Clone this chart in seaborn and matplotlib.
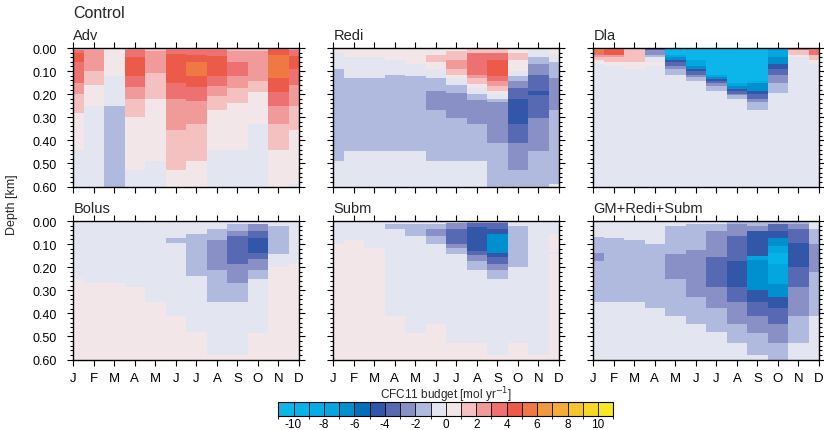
import numpy as np
import matplotlib
matplotlib.use("Agg")
import matplotlib as mpl
import matplotlib.pyplot as plt
from matplotlib.colors import ListedColormap, BoundaryNorm
import seaborn as sns

# month labels and colour classes
months = ["J", "F", "M", "A", "M", "J", "J", "A", "S", "O", "N", "D"]
levels = np.arange(-11, 12, 1)          # class edges, -11/11 stand for the open ends
cbar_ticks = np.arange(-10, 11, 2)
palette = ["#0cb6ea", "#06b3e8", "#04aee5", "#03a7e0", "#0090d0", "#0071b9",
           "#3357a8", "#5869b4", "#8890c6", "#b0b9de", "#e3e5f0", "#f3e6e8",
           "#f4c0c0", "#f09a9a", "#ed7171", "#ec5a4a", "#ef7943", "#f1993e",
           "#f4ac37", "#f6c42e", "#f7d826", "#f8e824"]

# each month: list of (bottom depth [km], budget value) from the surface down
adv = [
    [(0.01, 1.5), (0.02, 3.5), (0.06, 4.5), (0.15, 3.5), (0.20, 2.5), (0.28, 1.5), (0.44, 0.5), (0.6, -0.5)],
    [(0.01, 1.5), (0.10, 2.5), (0.16, 1.5), (0.25, 0.5), (0.6, -0.5)],
    [(0.12, 0.5), (0.25, -0.5), (0.6, -1.5)],
    [(0.01, 2.5), (0.04, 3.5), (0.12, 4.5), (0.17, 3.5), (0.22, 2.5), (0.30, 1.5), (0.53, 0.5), (0.6, -0.5)],
    [(0.015, 1.5), (0.11, 2.5), (0.22, 1.5), (0.49, 0.5), (0.6, -0.5)],
    [(0.01, 2.5), (0.025, 3.5), (0.15, 4.5), (0.22, 3.5), (0.355, 2.5), (0.53, 1.5), (0.6, 0.5)],
    [(0.01, 2.5), (0.03, 3.5), (0.06, 4.5), (0.12, 5.5), (0.17, 4.5), (0.23, 3.5), (0.33, 2.5), (0.49, 1.5), (0.6, 0.5)],
    [(0.01, 2.5), (0.035, 3.5), (0.12, 4.5), (0.165, 3.5), (0.21, 2.5), (0.27, 1.5), (0.44, 0.5), (0.6, -0.5)],
    [(0.012, 1.5), (0.063, 2.5), (0.12, 3.5), (0.175, 2.5), (0.24, 1.5), (0.44, 0.5), (0.6, -0.5)],
    [(0.012, 1.5), (0.145, 2.5), (0.19, 1.5), (0.33, 0.5), (0.6, -0.5)],
    [(0.01, 3.5), (0.03, 4.5), (0.13, 5.5), (0.19, 4.5), (0.25, 3.5), (0.33, 2.5), (0.44, 1.5), (0.6, 0.5)],
    [(0.01, 1.5), (0.035, 3.5), (0.09, 4.5), (0.16, 3.5), (0.25, 2.5), (0.355, 1.5), (0.59, 0.5), (0.6, -0.5)],
]

redi = [
    [(0.02, 0.5), (0.09, -0.5), (0.49, -1.5), (0.6, -0.5)],
    [(0.04, 0.5), (0.13, -0.5), (0.445, -1.5), (0.6, -0.5)],
    [(0.04, 0.5), (0.13, -0.5), (0.445, -1.5), (0.6, -0.5)],
    [(0.05, 0.5), (0.115, -0.5), (0.445, -1.5), (0.6, -0.5)],
    [(0.07, 0.5), (0.12, -0.5), (0.445, -1.5), (0.6, -0.5)],
    [(0.03, 0.5), (0.063, 1.5), (0.09, 0.5), (0.13, -0.5), (0.185, -1.5), (0.27, -2.5), (0.49, -1.5), (0.6, -0.5)],
    [(0.012, 0.5), (0.05, 1.5), (0.09, 2.5), (0.115, 1.5), (0.13, 0.5), (0.16, -0.5), (0.195, -1.5), (0.305, -2.5), (0.49, -1.5), (0.6, -0.5)],
    [(0.02, 1.5), (0.115, 3.5), (0.13, 2.5), (0.155, 1.5), (0.175, 0.5), (0.2, -0.5), (0.225, -1.5), (0.33, -2.5), (0.49, -1.5), (0.6, -0.5)],
    [(0.02, 1.5), (0.05, 3.5), (0.12, 4.5), (0.143, 3.5), (0.162, 2.5), (0.185, 1.5), (0.2, 0.5), (0.223, -0.5), (0.235, -1.5), (0.41, -2.5), (0.6, -1.5)],
    [(0.02, 0.5), (0.05, 1.5), (0.1, 0.5), (0.12, -0.5), (0.143, -1.5), (0.172, -2.5), (0.223, -3.5), (0.33, -4.5), (0.41, -3.5), (0.53, -2.5), (0.6, -1.5)],
    [(0.04, -0.5), (0.07, -1.5), (0.115, -2.5), (0.185, -3.5), (0.203, -4.5), (0.305, -3.5), (0.445, -2.5), (0.6, -1.5)],
    [(0.03, 0.5), (0.063, -0.5), (0.13, -1.5), (0.27, -2.5), (0.59, -1.5), (0.6, -0.5)],
]

dla = [
    [(0.007, 7.5), (0.018, 5.5), (0.03, 3.5), (0.04, 2.5), (0.05, 1.5), (0.07, 0.5), (0.6, -0.5)],
    [(0.007, 3.5), (0.03, 4.5), (0.04, 2.5), (0.06, 1.5), (0.08, 0.5), (0.6, -0.5)],
    [(0.06, 1.5), (0.09, 0.5), (0.6, -0.5)],
    [(0.007, -3.5), (0.03, -2.5), (0.04, -1.5), (0.06, -0.5), (0.08, 0.5), (0.6, -0.5)],
    [(0.03, -10.5), (0.04, -7.5), (0.05, -6.5), (0.06, -4.5), (0.08, -3.5), (0.09, -2.5), (0.115, -1.5), (0.6, -0.5)],
    [(0.05, -10.5), (0.08, -7.5), (0.09, -6.5), (0.1, -4.5), (0.115, -3.5), (0.125, -2.5), (0.143, -1.5), (0.6, -0.5)],
    [(0.115, -10.5), (0.125, -7.5), (0.133, -6.5), (0.143, -4.5), (0.153, -3.5), (0.162, -2.5), (0.185, -1.5), (0.6, -0.5)],
    [(0.153, -10.5), (0.165, -7.5), (0.177, -6.5), (0.187, -4.5), (0.2, -3.5), (0.205, -2.5), (0.223, -1.5), (0.6, -0.5)],
    [(0.143, -10.5), (0.153, -8.5), (0.185, -6.5), (0.2, -4.5), (0.223, -3.5), (0.235, -2.5), (0.267, -1.5), (0.6, -0.5)],
    [(0.04, -7.5), (0.07, -6.5), (0.09, -4.5), (0.115, -3.5), (0.153, -2.5), (0.195, -1.5), (0.6, -0.5)],
    [(0.007, 3.5), (0.03, 1.5), (0.04, 0.5), (0.6, -0.5)],
    [(0.007, 6.5), (0.03, 3.5), (0.05, 1.5), (0.07, 0.5), (0.6, -0.5)],
]

bolus = [
    [(0.252, -0.5), (0.6, 0.5)],
    [(0.27, -0.5), (0.6, 0.5)],
    [(0.27, -0.5), (0.6, 0.5)],
    [(0.288, -0.5), (0.6, 0.5)],
    [(0.353, -0.5), (0.6, 0.5)],
    [(0.075, -0.5), (0.094, -1.5), (0.41, -0.5), (0.6, 0.5)],
    [(0.055, -0.5), (0.237, -1.5), (0.482, -0.5), (0.6, 0.5)],
    [(0.036, -0.5), (0.083, -1.5), (0.213, -2.5), (0.35, -1.5), (0.583, -0.5), (0.6, 0.5)],
    [(0.014, -0.5), (0.046, -1.5), (0.065, -2.5), (0.187, -3.5), (0.27, -2.5), (0.35, -1.5), (0.583, -0.5), (0.6, 0.5)],
    [(0.014, -0.5), (0.043, -2.5), (0.072, -3.5), (0.137, -4.5), (0.165, -3.5), (0.213, -2.5), (0.252, -1.5), (0.486, -0.5), (0.6, 0.5)],
    [(0.022, -0.5), (0.144, -1.5), (0.2, -0.5), (0.6, 0.5)],
    [(0.187, -0.5), (0.6, 0.5)],
]

subm = [
    [(0.098, -0.5), (0.6, 0.5)],
    [(0.083, -0.5), (0.6, 0.5)],
    [(0.115, -0.5), (0.6, 0.5)],
    [(0.014, -0.5), (0.036, -1.5), (0.41, -0.5), (0.6, 0.5)],
    [(0.014, -0.5), (0.066, -1.5), (0.486, -0.5), (0.6, 0.5)],
    [(0.014, -0.5), (0.036, -1.5), (0.066, -2.5), (0.098, -1.5), (0.446, -0.5), (0.6, 0.5)],
    [(0.007, -0.5), (0.036, -2.5), (0.098, -3.5), (0.115, -2.5), (0.144, -1.5), (0.53, -0.5), (0.6, 0.5)],
    [(0.007, -1.5), (0.026, -3.5), (0.13, -4.5), (0.147, -3.5), (0.173, -2.5), (0.213, -1.5), (0.53, -0.5), (0.6, 0.5)],
    [(0.007, -1.5), (0.036, -3.5), (0.055, -4.5), (0.137, -6.5), (0.156, -4.5), (0.187, -3.5), (0.213, -2.5), (0.252, -1.5), (0.583, -0.5), (0.6, 0.5)],
    [(0.023, -0.5), (0.2, -1.5), (0.53, -0.5), (0.6, 0.5)],
    [(0.583, -0.5), (0.6, 0.5)],
    [(0.055, -0.5), (0.134, 0.5), (0.143, -0.5), (0.6, 0.5)],
]

gm_redi_subm = [
    [(0.068, -0.5), (0.137, -1.5), (0.173, -2.5), (0.35, -1.5), (0.6, -0.5)],
    [(0.075, -0.5), (0.35, -1.5), (0.6, -0.5)],
    [(0.083, -0.5), (0.35, -1.5), (0.6, -0.5)],
    [(0.098, -0.5), (0.374, -1.5), (0.6, -0.5)],
    [(0.022, -0.5), (0.144, -1.5), (0.252, -2.5), (0.41, -1.5), (0.6, -0.5)],
    [(0.014, -0.5), (0.127, -1.5), (0.331, -2.5), (0.446, -1.5), (0.6, -0.5)],
    [(0.014, -0.5), (0.043, -1.5), (0.155, -2.5), (0.288, -3.5), (0.374, -2.5), (0.482, -1.5), (0.6, -0.5)],
    [(0.014, -1.5), (0.066, -2.5), (0.173, -3.5), (0.288, -4.5), (0.35, -3.5), (0.446, -2.5), (0.53, -1.5), (0.6, -0.5)],
    [(0.022, -1.5), (0.043, -2.5), (0.151, -4.5), (0.17, -7.5), (0.30, -6.5), (0.35, -4.5), (0.41, -3.5), (0.486, -2.5), (0.583, -1.5), (0.6, -0.5)],
    [(0.014, -1.5), (0.043, -3.5), (0.072, -4.5), (0.108, -6.5), (0.137, -7.5), (0.187, -9.5), (0.273, -7.5), (0.331, -6.5), (0.374, -4.5), (0.446, -3.5), (0.53, -2.5), (0.6, -1.5)],
    [(0.014, -1.5), (0.036, -2.5), (0.094, -3.5), (0.2, -4.5), (0.288, -3.5), (0.41, -2.5), (0.53, -1.5), (0.6, -0.5)],
    [(0.036, -0.5), (0.098, -1.5), (0.223, -2.5), (0.41, -1.5), (0.6, -0.5)],
]

titles = ["Adv", "Redi", "Dla", "Bolus", "Subm", "GM+Redi+Subm"]
panels = [adv, redi, dla, bolus, subm, gm_redi_subm]

dz = 0.0025
zmax = 0.6
nz = int(round(zmax / dz))


def to_grid(cols):
    # half-month columns so that Jan and Dec are half cells at the edges
    grid = np.zeros((nz, 22))
    zc = (np.arange(nz) + 0.5) * dz
    for m, segs in enumerate(cols):
        bottoms = np.array([s[0] for s in segs])
        vals = np.array([s[1] for s in segs])
        idx = np.clip(np.searchsorted(bottoms, zc), 0, len(vals) - 1)
        col = vals[idx]
        if m == 0:
            grid[:, 0] = col
        elif m == 11:
            grid[:, 21] = col
        else:
            grid[:, 2 * m - 1] = col
            grid[:, 2 * m] = col
    return grid


sns.set_style("ticks", {"axes.edgecolor": "black", "xtick.color": "black",
                        "ytick.color": "black"})
plt.rcParams["font.family"] = ["Liberation Sans", "DejaVu Sans"]
plt.rcParams["axes.unicode_minus"] = False

cmap = ListedColormap(palette)
norm = BoundaryNorm(levels, ncolors=cmap.N)

fig = plt.figure(figsize=(8.24, 4.31), dpi=100)
W, H = 824, 431
lefts = [73.3, 333.3, 593.3]
tops = [49, 222]
pw, ph = 225.7, 138.5

for i, (title, data) in enumerate(zip(titles, panels)):
    r, c = divmod(i, 3)
    ax = fig.add_axes([lefts[c] / W, 1 - (tops[r] + ph) / H, pw / W, ph / H])
    sns.heatmap(to_grid(data), ax=ax, cmap=cmap, norm=norm, cbar=False,
                xticklabels=False, yticklabels=False)
    for sp in ax.spines.values():
        sp.set_visible(True)
        sp.set_linewidth(1.0)
    ax.set_xlim(0, 22)
    ax.set_ylim(nz, 0)
    ax.set_xticks(np.arange(0, 23, 2))
    ax.set_xticklabels(months if r == 1 else [""] * 12, fontsize=9.5)
    ax.set_yticks(np.arange(0, 0.61, 0.1) / dz)
    ax.set_yticks(np.arange(0, 0.601, 0.02) / dz, minor=True)
    if c == 0:
        ax.set_yticklabels(["%.2f" % v for v in np.arange(0, 0.61, 0.1)], fontsize=9)
    else:
        ax.set_yticklabels([""] * 7)
    ax.tick_params(which="both", direction="out", top=True, right=True,
                   width=0.8, labelrotation=0)
    ax.tick_params(which="major", length=4, pad=5)
    ax.tick_params(which="minor", length=2)
    ax.tick_params(axis="y", which="major", pad=8)
    ax.annotate(title, xy=(0, 1), xycoords="axes fraction", xytext=(0, 6.2),
                textcoords="offset points", va="baseline", ha="left", fontsize=10.5)

fig.text(73 / W, 1 - 18 / H, "Control", fontsize=11.5, va="baseline", ha="left")
fig.text(12 / W, 1 - 205 / H, "Depth [km]", rotation=90, va="center", ha="center",
         fontsize=9)

cax = fig.add_axes([278.3 / W, 1 - 416.5 / H, 335 / W, 14 / H])
sm = mpl.cm.ScalarMappable(norm=norm, cmap=cmap)
cb = fig.colorbar(sm, cax=cax, orientation="horizontal", ticks=cbar_ticks,
                  drawedges=True)
cb.outline.set_linewidth(0.8)
cb.outline.set_edgecolor("black")
cb.dividers.set_color("black")
cb.dividers.set_linewidth(0.6)
cax.tick_params(length=0, labelsize=8.5, pad=1.5)
cax.set_xticklabels([str(t) for t in cbar_ticks])
fig.text(445.8 / W, 1 - 395.5 / H, "CFC11 budget [mol yr$^{-1}$]", ha="center",
         va="center", fontsize=8.5)

plt.savefig("out.png", dpi=100)
